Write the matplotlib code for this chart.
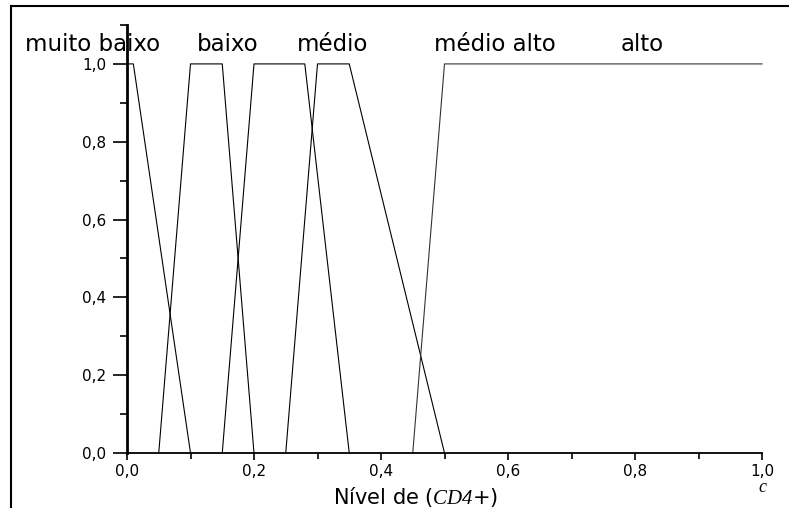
import matplotlib
matplotlib.use("Agg")
import matplotlib.pyplot as plt
from matplotlib.lines import Line2D
from matplotlib.ticker import MultipleLocator, FuncFormatter

plt.rcParams['font.family'] = ['DejaVu Sans']
plt.rcParams['mathtext.fontset'] = 'custom'
plt.rcParams['mathtext.rm'] = 'Liberation Serif:italic'
plt.rcParams['mathtext.it'] = 'Liberation Serif:italic'

# Membership functions (x breakpoints, membership values)
labels = ["muito baixo", "baixo", "médio", "médio alto", "alto"]
mb_x = [0.0, 0.01, 0.10]
mb_y = [1.0, 1.0, 0.0]
b_x = [0.05, 0.10, 0.15, 0.20]
b_y = [0.0, 1.0, 1.0, 0.0]
m_x = [0.15, 0.20, 0.28, 0.35]
m_y = [0.0, 1.0, 1.0, 0.0]
ma_x = [0.25, 0.30, 0.35, 0.50]
ma_y = [0.0, 1.0, 1.0, 0.0]
a_x = [0.45, 0.50, 1.00]
a_y = [0.0, 1.0, 1.0]
label_x = [-0.055, 0.159, 0.323, 0.579, 0.811]  # label centres in data units

fig = plt.figure(figsize=(7.89, 5.08), dpi=100)
ax = fig.add_axes([127/789, 1-453/508, 635/789, 428/508])

for xs, ys in [(mb_x, mb_y), (b_x, b_y), (m_x, m_y), (ma_x, ma_y)]:
    ax.plot(xs, ys, color='black', lw=0.8, clip_on=False)
ax.plot(a_x, a_y, color='#333333', lw=0.8, clip_on=False)

ax.set_xlim(0, 1.0)
ax.set_ylim(0, 1.1)
for s in ['top', 'right']:
    ax.spines[s].set_visible(False)
ax.spines['left'].set_linewidth(2.0)
ax.spines['bottom'].set_linewidth(1.3)

ax.xaxis.set_major_locator(MultipleLocator(0.2))
ax.xaxis.set_minor_locator(MultipleLocator(0.1))
ax.yaxis.set_major_locator(MultipleLocator(0.2))
ax.yaxis.set_minor_locator(MultipleLocator(0.1))
fmt = FuncFormatter(lambda v, p: f"{v:.1f}".replace('.', ','))
ax.xaxis.set_major_formatter(fmt)
ax.yaxis.set_major_formatter(fmt)
ax.tick_params(axis='y', which='major', direction='out', length=10, width=1.2, labelsize=11, pad=5)
ax.tick_params(axis='y', which='minor', direction='out', length=5, width=1.2)
ax.tick_params(axis='x', which='major', direction='out', length=5, width=1.2, labelsize=11, pad=3)
ax.tick_params(axis='x', which='minor', direction='out', length=4, width=1.2)

for lab, lx in zip(labels, label_x):
    ax.text(lx, 1.032, lab, ha='center', va='baseline', fontsize=16.5, clip_on=False)

ax.set_xlabel(r"Nível de ($\mathrm{CD4}$+)", fontsize=15)
ax.xaxis.set_label_coords(0.455, -0.075)
ax.text(1.0, -0.08, 'c', transform=ax.transAxes, ha='center', va='center',
        fontsize=13, family='Liberation Serif', style='italic')

# outer frame lines
fig.add_artist(Line2D([11/789, 11/789], [0, 1-6/508], transform=fig.transFigure, color='black', lw=1.5))
fig.add_artist(Line2D([11/789, 1.0], [1-6/508, 1-6/508], transform=fig.transFigure, color='black', lw=1.5))

fig.savefig("out.png", dpi=100)
